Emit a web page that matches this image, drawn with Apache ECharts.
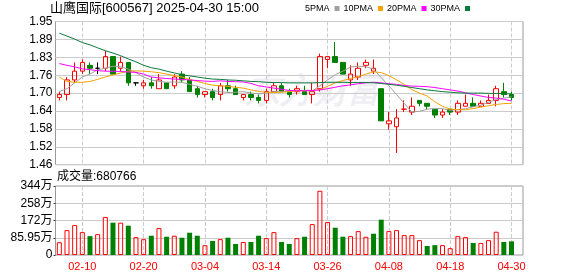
<!DOCTYPE html>
<html>
<head>
<meta charset="utf-8">
<script src="https://cdn.jsdelivr.net/npm/echarts@6/dist/echarts.min.js"></script>
<style>
html, body { margin: 0; padding: 0; background: #fff; }
#chart { width: 578px; height: 276px; }
</style>
</head>
<body>
<div id="chart"></div>
<script>
const dates = [
	'02-05', '02-06', '02-07', '02-10', '02-11', '02-12', '02-13', '02-14', '02-17', '02-18',
	'02-19', '02-20', '02-21', '02-24', '02-25', '02-26', '02-27', '02-28', '03-03', '03-04',
	'03-05', '03-06', '03-07', '03-10', '03-11', '03-12', '03-13', '03-14', '03-17', '03-18',
	'03-19', '03-20', '03-21', '03-24', '03-25', '03-26', '03-27', '03-28', '03-31', '04-01',
	'04-02', '04-03', '04-07', '04-08', '04-09', '04-10', '04-11', '04-14', '04-15', '04-16',
	'04-17', '04-18', '04-21', '04-22', '04-23', '04-24', '04-25', '04-28', '04-29', '04-30'
];

const opens = [
	1.69, 1.70, 1.75, 1.78, 1.80, 1.79, 1.79, 1.83, 1.79, 1.81,
	1.74, 1.73, 1.74, 1.72, 1.74, 1.73, 1.77, 1.75, 1.72, 1.70,
	1.71, 1.70, 1.73, 1.72, 1.69, 1.70, 1.69, 1.68, 1.71, 1.73,
	1.71, 1.71, 1.71, 1.70, 1.72, 1.82, 1.83, 1.81, 1.75, 1.76,
	1.80, 1.78, 1.72, 1.60, 1.59, 1.65, 1.64, 1.68, 1.67, 1.65,
	1.63, 1.65, 1.64, 1.66, 1.67, 1.66, 1.67, 1.68, 1.71, 1.70
];
const closes = [
	1.70, 1.75, 1.78, 1.81, 1.79, 1.79, 1.83, 1.77, 1.81, 1.74,
	1.74, 1.74, 1.73, 1.75, 1.72, 1.76, 1.75, 1.71, 1.70, 1.71,
	1.69, 1.73, 1.72, 1.70, 1.70, 1.69, 1.68, 1.71, 1.73, 1.71,
	1.70, 1.72, 1.70, 1.71, 1.83, 1.83, 1.81, 1.77, 1.77, 1.79,
	1.81, 1.79, 1.61, 1.61, 1.62, 1.65, 1.66, 1.67, 1.66, 1.63,
	1.64, 1.64, 1.67, 1.67, 1.66, 1.67, 1.68, 1.72, 1.70, 1.69
];
const lows = [
	1.68, 1.68, 1.74, 1.77, 1.77, 1.77, 1.78, 1.77, 1.78, 1.73,
	1.73, 1.72, 1.72, 1.72, 1.72, 1.72, 1.74, 1.71, 1.69, 1.69,
	1.68, 1.68, 1.71, 1.70, 1.68, 1.68, 1.67, 1.67, 1.71, 1.71,
	1.69, 1.70, 1.70, 1.67, 1.71, 1.79, 1.81, 1.77, 1.73, 1.75,
	1.79, 1.77, 1.61, 1.58, 1.50, 1.64, 1.63, 1.66, 1.65, 1.62,
	1.62, 1.63, 1.63, 1.66, 1.66, 1.66, 1.67, 1.66, 1.69, 1.68
];
const highs = [
	1.71, 1.76, 1.81, 1.82, 1.81, 1.81, 1.85, 1.83, 1.83, 1.81,
	1.74, 1.75, 1.76, 1.77, 1.74, 1.77, 1.78, 1.76, 1.73, 1.71,
	1.72, 1.74, 1.75, 1.73, 1.70, 1.71, 1.70, 1.72, 1.74, 1.74,
	1.72, 1.73, 1.73, 1.74, 1.84, 1.83, 1.88, 1.81, 1.80, 1.81,
	1.82, 1.82, 1.72, 1.64, 1.65, 1.68, 1.69, 1.68, 1.67, 1.65,
	1.65, 1.65, 1.68, 1.70, 1.69, 1.68, 1.70, 1.73, 1.74, 1.71
];

// volume in 万 (10k lots)
const volumes = [
	63.7, 124, 149, 114, 94, 104, 189.5, 161, 161, 146,
	89, 79, 96, 134, 91, 96, 86, 111, 96, 49,
	70, 79, 86, 55, 65, 65, 96, 84, 114, 65,
	55, 84, 91, 154, 320, 164, 136, 91, 94, 119,
	91, 106, 176, 119, 124, 99, 99, 74, 45, 49,
	49, 34, 94, 89, 60, 60, 74, 116, 65, 68.0766
];

const ma5 = [
	1.71, 1.72, 1.74, 1.76, 1.77, 1.785, 1.79, 1.797, 1.795, 1.787,
	1.775, 1.76, 1.75, 1.745, 1.742, 1.743, 1.742, 1.735, 1.728, 1.72,
	1.714, 1.71, 1.707, 1.708, 1.71, 1.705, 1.703, 1.705, 1.71, 1.71,
	1.712, 1.714, 1.714, 1.712, 1.73, 1.75, 1.768, 1.78, 1.794, 1.797,
	1.795, 1.787, 1.758, 1.73, 1.70, 1.67, 1.64, 1.643, 1.65, 1.652,
	1.652, 1.646, 1.648, 1.652, 1.658, 1.664, 1.674, 1.683, 1.688, 1.692
];
const ma10 = [
	1.76, 1.745, 1.742, 1.742, 1.745, 1.752, 1.76, 1.767, 1.774, 1.78,
	1.781, 1.78, 1.778, 1.775, 1.77, 1.765, 1.76, 1.752, 1.745, 1.738,
	1.732, 1.73, 1.728, 1.725, 1.722, 1.716, 1.711, 1.708, 1.707, 1.708,
	1.71, 1.712, 1.713, 1.714, 1.717, 1.728, 1.74, 1.748, 1.755, 1.761,
	1.77, 1.778, 1.775, 1.765, 1.75, 1.735, 1.717, 1.705, 1.695, 1.675,
	1.66, 1.65, 1.648, 1.648, 1.652, 1.657, 1.662, 1.666, 1.669, 1.67
];
const ma20 = [
	1.806, 1.80, 1.795, 1.788, 1.785, 1.782, 1.78, 1.78, 1.779, 1.777,
	1.776, 1.77, 1.76, 1.757, 1.755, 1.753, 1.752, 1.75, 1.748, 1.746,
	1.745, 1.747, 1.745, 1.744, 1.743, 1.738, 1.73, 1.726, 1.722, 1.718,
	1.714, 1.713, 1.713, 1.714, 1.716, 1.72, 1.725, 1.73, 1.733, 1.737,
	1.74, 1.742, 1.74, 1.737, 1.735, 1.731, 1.729, 1.728, 1.727, 1.724,
	1.72, 1.716, 1.712, 1.706, 1.70, 1.695, 1.69, 1.688, 1.684, 1.678
];
const ma30 = [
	1.91, 1.90, 1.89, 1.878, 1.87, 1.86, 1.85, 1.842, 1.833, 1.822,
	1.812, 1.80, 1.792, 1.787, 1.78, 1.774, 1.768, 1.764, 1.76, 1.756,
	1.753, 1.752, 1.75, 1.749, 1.747, 1.745, 1.744, 1.742, 1.741, 1.741,
	1.74, 1.74, 1.74, 1.74, 1.741, 1.742, 1.742, 1.742, 1.741, 1.741,
	1.741, 1.74, 1.738, 1.735, 1.732, 1.728, 1.724, 1.72, 1.716, 1.713,
	1.71, 1.708, 1.706, 1.705, 1.705, 1.705, 1.704, 1.704, 1.703, 1.702
];

const priceTicks = ['1.46', '1.52', '1.58', '1.64', '1.70', '1.76', '1.83', '1.89', '1.95'];
const volumeTicks = ['0', '85.95万', '172万', '258万', '344万'];
const maNames = ['5PMA', '10PMA', '20PMA', '30PMA'];
const maColors = ['#a0a0a0', '#f4a300', '#ff00ff', '#0a7a3a'];

const UP = '#ff0000';
const DOWN = '#008000';
const FONT = '"Liberation Sans", Arial, "Noto Sans CJK SC", sans-serif';

// one spare slot at the right end, like the source chart
const categories = dates.concat(['']);
const labelAt = (i) => i < dates.length && i % 8 === 3;

function buildCandles() {
	let data = [];
	for (let i = 0; i < dates.length; i++) {
		const item = { value: [opens[i], closes[i], lows[i], highs[i]] };
		if (opens[i] === closes[i] && i > 0 && closes[i] === closes[i - 1]) {
			item.itemStyle = { color: '#000', color0: '#000', borderColor: '#000', borderColor0: '#000' };
		}
		data.push(item);
	}
	return data;
}

function buildVolumes() {
	let data = [];
	for (let i = 0; i < volumes.length; i++) {
		const up = i === 0 || closes[i] >= closes[i - 1];
		data.push({
			value: volumes[i],
			itemStyle: up
				? { color: 'rgba(0,0,0,0)', borderColor: UP, borderWidth: 1 }
				: { color: DOWN }
		});
	}
	return data;
}

var chartDom = document.getElementById('chart');
var myChart = echarts.init(chartDom);

const maSeries = maNames.map((name, k) => ({
	name: name,
	type: 'line',
	xAxisIndex: 0,
	yAxisIndex: 0,
	data: [ma5, ma10, ma20, ma30][k],
	symbol: 'none',
	lineStyle: { width: 1, color: maColors[k] },
	itemStyle: { color: maColors[k] },
	silent: true
}));

var option = {
	animation: false,
	textStyle: { fontFamily: FONT },
	title: [
		{
			text: '山鹰国际[600567] 2025-04-30 15:00',
			left: 50, top: 2, padding: 0,
			textStyle: { fontSize: 13, fontWeight: 'normal', color: '#000', fontFamily: FONT }
		},
		{
			text: '成交量:' + Math.round(volumes[volumes.length - 1] * 10000),
			left: 57, top: 171, padding: 0,
			textStyle: { fontSize: 12, fontWeight: 'normal', color: '#000', fontFamily: FONT }
		}
	],
	legend: {
		data: maNames,
		left: 305, top: 4, padding: 0,
		align: 'right',
		icon: 'rect',
		itemWidth: 5, itemHeight: 5, itemGap: 4,
		selectedMode: false,
		textStyle: { fontSize: 9, color: '#000', fontFamily: FONT }
	},
	graphic: [
		{
			type: 'text', left: 246, top: 76, z: -1, silent: true,
			style: { text: '东方财富', fontSize: 34, fontStyle: 'italic', fontWeight: 'bold', fill: 'rgba(205,207,220,0.35)' }
		}
	],
	grid: [
		{ left: 55.5, right: 55, top: 21.5, height: 143.2, show: true, borderColor: '#999', borderWidth: 1 },
		{ left: 55.5, right: 55, top: 186, height: 69, show: true, borderColor: '#999', borderWidth: 1 }
	],
	xAxis: [
		{
			gridIndex: 0, type: 'category', data: categories, boundaryGap: true,
			axisLine: { show: false }, axisTick: { show: false }, axisLabel: { show: false },
			splitLine: { show: true, interval: labelAt, alignWithLabel: true, lineStyle: { color: '#ccc', type: 'dashed' } }
		},
		{
			gridIndex: 1, type: 'category', data: categories, boundaryGap: true,
			axisLine: { show: false }, axisTick: { show: false },
			axisLabel: { interval: labelAt, color: UP, fontSize: 11, margin: 6 },
			splitLine: { show: true, interval: labelAt, alignWithLabel: true, lineStyle: { color: '#ccc', type: 'dashed' } }
		}
	],
	yAxis: [
		{ gridIndex: 0, type: 'value', min: 1.46, max: 1.95, position: 'right', show: false },
		{
			gridIndex: 0, type: 'value', min: 0, max: 8, interval: 1, position: 'left',
			axisLine: { show: false }, axisTick: { show: false },
			axisLabel: { formatter: (v) => priceTicks[v], color: '#000', fontSize: 12, margin: 3 },
			splitLine: { lineStyle: { color: '#ccc' } }
		},
		{
			gridIndex: 1, type: 'value', min: 0, max: 343.8, interval: 85.95, position: 'left',
			axisLine: { show: false },
			axisTick: { show: true, length: 2, lineStyle: { color: '#335' } },
			axisLabel: { formatter: (v) => volumeTicks[Math.round(v / 85.95)], color: '#000', fontSize: 12, margin: 3 },
			splitLine: { lineStyle: { color: '#ccc' } }
		}
	],
	series: [
		{
			name: 'K',
			type: 'candlestick',
			xAxisIndex: 0,
			yAxisIndex: 0,
			barWidth: 5,
			data: buildCandles(),
			itemStyle: {
				color: 'rgba(0,0,0,0)',
				color0: DOWN,
				borderColor: UP,
				borderColor0: DOWN,
				borderWidth: 1
			},
			silent: true
		},
		...maSeries,
		{
			name: '成交量',
			type: 'bar',
			xAxisIndex: 1,
			yAxisIndex: 2,
			barWidth: 5,
			data: buildVolumes(),
			silent: true
		}
	]
};

option && myChart.setOption(option);
</script>
</body>
</html>
